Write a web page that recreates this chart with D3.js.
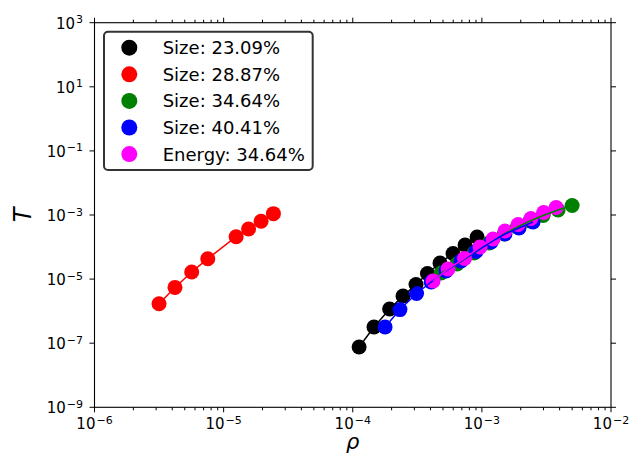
<!DOCTYPE html>
<html>
<head>
<meta charset="utf-8">
<script src="https://cdn.jsdelivr.net/npm/d3@7"></script>
<style>
  body { margin: 0; background: #fff; }
  text { font-family: "DejaVu Sans", sans-serif; fill: #000; }
</style>
</head>
<body>
<script>
// series (rho, T)
const rhoBlack = [1.12e-4, 1.46e-4, 1.93e-4, 2.45e-4, 3.09e-4, 3.79e-4, 4.74e-4, 5.98e-4, 7.41e-4, 9.18e-4];
const tBlack   = [7.6e-8, 3.2e-7, 1.17e-6, 2.97e-6, 6.8e-6, 1.5e-5, 3.18e-5, 6.3e-5, 1.16e-4, 2.06e-4];

const rhoRed = [3.16e-6, 4.2e-6, 5.66e-6, 7.54e-6, 1.25e-5, 1.56e-5, 1.95e-5, 2.43e-5];
const tRed   = [1.7e-6, 5.5e-6, 1.66e-5, 4.33e-5, 2.1e-4, 3.66e-4, 6.35e-4, 1.1e-3];

const rhoGreen = [4.83e-4, 6.43e-4, 8.71e-4, 1.14e-3, 1.49e-3, 1.88e-3, 2.36e-3, 2.98e-3, 3.89e-3, 5.0e-3];
const tGreen   = [1.55e-5, 2.96e-5, 6.52e-5, 1.34e-4, 2.55e-4, 4.23e-4, 6.5e-4, 9.6e-4, 1.43e-3, 1.98e-3];

const rhoBlue = [1.78e-4, 2.32e-4, 3.12e-4, 4.05e-4, 5.28e-4, 6.9e-4, 9.0e-4, 1.18e-3, 1.51e-3, 1.94e-3, 2.49e-3];
const tBlue   = [3.2e-7, 1.12e-6, 3.56e-6, 8.1e-6, 1.79e-5, 3.67e-5, 7.26e-5, 1.44e-4, 2.55e-4, 3.93e-4, 6.05e-4];

const rhoMagenta = [4.19e-4, 5.47e-4, 7.34e-4, 9.68e-4, 1.22e-3, 1.51e-3, 1.91e-3, 2.40e-3, 3.01e-3, 3.76e-3];
const tMagenta   = [8.7e-6, 2.07e-5, 4.4e-5, 1.0e-4, 1.78e-4, 3.17e-4, 5.06e-4, 7.78e-4, 1.2e-3, 1.71e-3];

const seriesNames = ["Size: 23.09%", "Size: 28.87%", "Size: 34.64%", "Size: 40.41%", "Energy: 34.64%"];
const seriesColors = ["#000000", "#ff0000", "#008000", "#0000ff", "#ff00ff"];

const xTickExps = [-6, -5, -4, -3, -2];
const yTickExps = [3, 1, -1, -3, -5, -7, -9];

const series = [
  {x: rhoBlack, y: tBlack},
  {x: rhoRed, y: tRed},
  {x: rhoGreen, y: tGreen},
  {x: rhoBlue, y: tBlue},
  {x: rhoMagenta, y: tMagenta}
].map((s, i) => ({
  name: seriesNames[i],
  color: seriesColors[i],
  pts: s.x.map((v, j) => [v, s.y[j]])
}));

const W = 630, H = 455;
const pLeft = 94.5, pRight = 611, pTop = 22.7, pBottom = 407.3;

const x = d3.scaleLog().domain([1e-6, 1e-2]).range([pLeft, pRight]);
const y = d3.scaleLog().domain([1e-9, 1e3]).range([pBottom, pTop]);

const svg = d3.select("body").append("svg")
    .attr("width", W)
    .attr("height", H);

svg.append("clipPath").attr("id", "clip")
  .append("rect")
    .attr("x", pLeft).attr("y", pTop)
    .attr("width", pRight - pLeft).attr("height", pBottom - pTop);

const plot = svg.append("g").attr("clip-path", "url(#clip)");

// markers first (scatter), lines on top like the original
series.forEach(s => {
  plot.append("g").selectAll("circle")
    .data(s.pts)
    .join("circle")
      .attr("cx", d => x(d[0]))
      .attr("cy", d => y(d[1]))
      .attr("r", 7.5)
      .attr("fill", s.color);
});

const line = d3.line().x(d => x(d[0])).y(d => y(d[1]));
series.forEach(s => {
  plot.append("path")
    .attr("d", line(s.pts))
    .attr("fill", "none")
    .attr("stroke", s.color)
    .attr("stroke-width", 1.5);
});

// ticks on all four sides, pointing out
const minorX = [];
for (let e = -6; e < -2; e++) {
  for (let m = 2; m <= 9; m++) minorX.push(m * Math.pow(10, e));
}

const ticks = svg.append("g").attr("stroke", "#000").attr("stroke-width", 1);
xTickExps.forEach(e => {
  const px = x(Math.pow(10, e));
  ticks.append("line").attr("x1", px).attr("x2", px).attr("y1", pBottom).attr("y2", pBottom + 5);
  ticks.append("line").attr("x1", px).attr("x2", px).attr("y1", pTop).attr("y2", pTop - 5);
});
minorX.forEach(v => {
  const px = x(v);
  ticks.append("line").attr("x1", px).attr("x2", px).attr("y1", pBottom).attr("y2", pBottom + 3);
  ticks.append("line").attr("x1", px).attr("x2", px).attr("y1", pTop).attr("y2", pTop - 3);
});
yTickExps.forEach(e => {
  const py = y(Math.pow(10, e));
  ticks.append("line").attr("x1", pLeft).attr("x2", pLeft - 5).attr("y1", py).attr("y2", py);
  ticks.append("line").attr("x1", pRight).attr("x2", pRight + 5).attr("y1", py).attr("y2", py);
});

// frame
svg.append("rect")
    .attr("x", pLeft).attr("y", pTop)
    .attr("width", pRight - pLeft).attr("height", pBottom - pTop)
    .attr("fill", "none")
    .attr("stroke", "#000")
    .attr("stroke-width", 1.1);

function powLabel(sel, e) {
  sel.append("tspan").text("10");
  sel.append("tspan")
      .attr("dx", "1")
      .attr("dy", "-0.5em")
      .attr("font-size", "11px")
      .text(e < 0 ? "\u2212" + (-e) : String(e));
}

xTickExps.forEach(e => {
  const t = svg.append("text")
      .attr("x", x(Math.pow(10, e)))
      .attr("y", 429)
      .attr("text-anchor", "middle")
      .attr("font-size", "15px");
  powLabel(t, e);
});

yTickExps.forEach(e => {
  const t = svg.append("text")
      .attr("x", 83)
      .attr("y", y(Math.pow(10, e)) + 6)
      .attr("text-anchor", "end")
      .attr("font-size", "15px");
  powLabel(t, e);
});

svg.append("text")
    .attr("x", (pLeft + pRight) / 2)
    .attr("y", 449)
    .attr("text-anchor", "middle")
    .attr("font-size", "21px")
    .attr("font-style", "italic")
    .text("\u03c1");

svg.append("text")
    .attr("transform", `translate(31,${(pTop + pBottom) / 2}) rotate(-90)`)
    .attr("text-anchor", "middle")
    .attr("font-size", "24px")
    .attr("font-style", "italic")
    .text("T");

// legend
const legend = svg.append("g");
legend.append("rect")
    .attr("x", 104).attr("y", 31.7)
    .attr("width", 208.7).attr("height", 138.3)
    .attr("rx", 4)
    .attr("fill", "#fff")
    .attr("stroke", "#333")
    .attr("stroke-width", 2);

series.forEach((s, i) => {
  const cy = 47.7 + i * 26.6;
  legend.append("circle")
      .attr("cx", 129.3).attr("cy", cy).attr("r", 8)
      .attr("fill", s.color);
  legend.append("text")
      .attr("x", 162.7).attr("y", cy + 6.5)
      .attr("font-size", "18px")
      .text(s.name);
});
</script>
</body>
</html>
